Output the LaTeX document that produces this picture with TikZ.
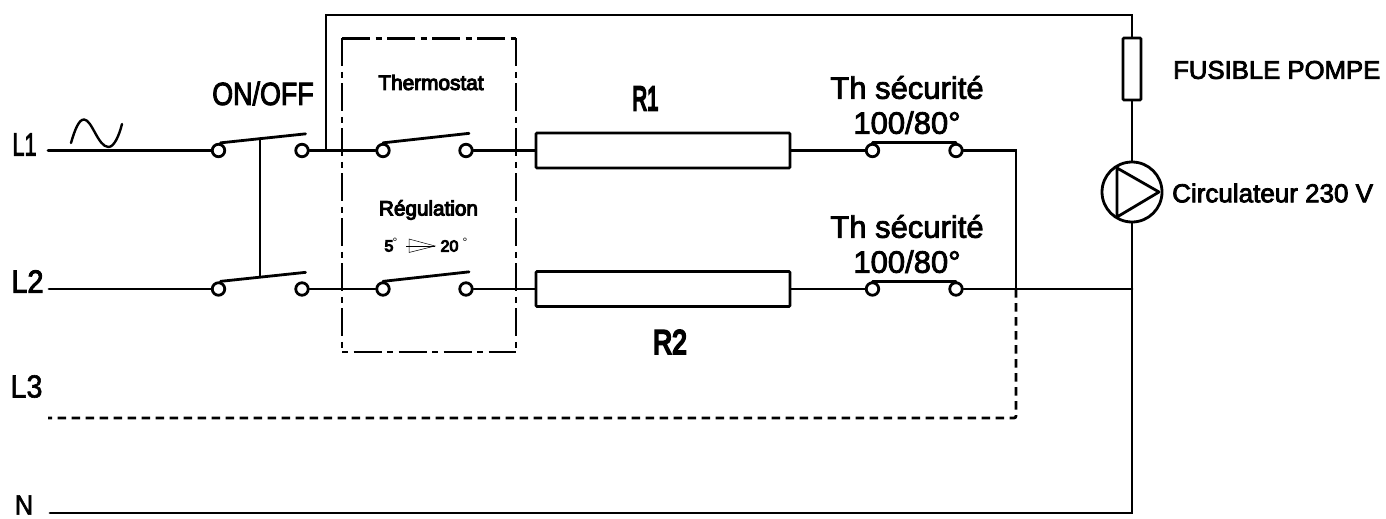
\documentclass[tikz,border=0pt]{standalone}
\usepackage{fontspec}
\setmainfont{Liberation Sans}
\newcommand{\nar}[2]{\scalebox{#1}[1]{#2}}
\newcommand{\hvy}[2]{\special{pdf:code q #1 w 2 Tr}#2\special{pdf:code Q}}
\tikzset{
  wire/.style={line width=2.8pt,line cap=round},
  term/.style={circle,draw,line width=2.8pt,fill=white,inner sep=0pt,minimum size=12.5pt},
  res/.style={rectangle,draw,line width=2.8pt,rounded corners=1pt,inner sep=0pt,minimum width=254pt,minimum height=35pt},
  lab/.style={inner sep=0pt,anchor=center},
  fake/.style={draw=black,line width=.5pt},
  dashdot/.style={line width=2.8pt,dash pattern=on 28pt off 5.5pt on 6pt off 5.5pt},
}
\begin{document}
\begin{tikzpicture}[x=1pt,y=-1pt]
\useasboundingbox (0,0) rectangle (1386,519);
% free ends
\coordinate (l1s) at (48,150.5);
\coordinate (l2s) at (49,289);
\coordinate (l3s) at (48,418);
\coordinate (ns) at (50,513);
\coordinate (j1) at (1016,150.5);
\coordinate (j2) at (1016,289);
\coordinate (j3) at (1016,418);
\coordinate (top1) at (326,150.5);
\coordinate (top2) at (326,15);
\coordinate (top3) at (1132,15);
\coordinate (r2j) at (1132,289);
\coordinate (nj) at (1132,513);
% terminals
\foreach \n/\x in {a/218.5,b/302,c/383,d/466,e/872.5,f/956}{
  \node[term] (\n1) at (\x,150.5) {};
  \node[term] (\n2) at (\x,289) {};
}
% resistors, fuse, pump
\node[res] (R1) at (663,150.5) {};
\node[res] (R2) at (663,289) {};
\node[rectangle,draw,line width=2.8pt,rounded corners=1pt,inner sep=0pt,minimum width=18pt,minimum height=62pt] (fuse) at (1132,69) {};
\node[circle,draw,line width=2.8pt,inner sep=0pt,minimum size=60pt] (pump) at (1132,192) {};
% wires
\draw[wire] (l1s) -- (a1.west);
\draw[wire] (l2s) -- (a2.west);
\draw[wire] (b1.east) -- (c1.west);
\draw[wire] (b2.east) -- (c2.west);
\draw[wire] (d1.east) -- (R1.west);
\draw[wire] (d2.east) -- (R2.west);
\draw[wire] (R1.east) -- (e1.west);
\draw[wire] (R2.east) -- (e2.west);
\draw[wire] (f1.east) -- (j1) -- (j2);
\draw[wire] (f2.east) -- (r2j);
\draw[wire,dash pattern=on 8.5pt off 5.5pt,line cap=butt,rounded corners=2pt] (j2) -- (j3) -- (l3s);
\draw[wire] (ns) -- (nj) -- (pump.south);
\draw[wire] (pump.north) -- (fuse.south);
\draw[wire,line join=miter] (top1) -- (top2) -- (top3) -- (fuse.north);
% switches
\foreach \n in {1,2}{
  \draw[wire] (a\n.north) ++(2,0) -- ++(85,-9) coordinate (swa\n);
  \draw[wire] (c\n.north) ++(0,0) -- ++(86,-9.5) coordinate (swc\n);
  \draw[wire] (e\n.north) -- (f\n.north);
}
\coordinate (bar1) at (260,138.5);
\coordinate (bar2) at (260,277);
\draw[wire] (bar1) -- (bar2);
% dash-dot box
\coordinate (bxa) at (342,38.3);
\coordinate (bxb) at (516,38.3);
\coordinate (bxc) at (516,352);
\coordinate (bxd) at (342,352);
\draw[dashdot] (bxa) -- (bxb);
\draw[dashdot] (bxa) -- (bxd);
\draw[dashdot] (bxb) -- (bxc);
\draw[dashdot,dash phase=33.5pt] (bxd) -- (bxc);
% pump triangle
\draw[line width=2.8pt,line join=round] (1117,168) -- (1159,192) -- (1117,217) -- cycle;
% sine
\draw[line width=2.4pt,line cap=round] (71,143) .. controls (75,129) and (79,119.5) .. (84,119.5)
  .. controls (92,119.5) and (98,147) .. (108.5,147) .. controls (114,147) and (119,136) .. (122,124);
% small arrow
\draw[fake] (409,239) -- (435,246) -- (409,252.5) -- cycle;
\draw[fake] (406,246) -- (435,246);
% labels
\node[lab] (tL1) at (24.5,144.5) {\fontsize{32}{36}\selectfont\hvy{1}{\nar{.68}{L1}}};
\node[lab] (tL2) at (27.5,281.5) {\fontsize{32}{36}\selectfont\hvy{1}{\nar{.9}{L2}}};
\node[lab] (tL3) at (26.5,386.5) {\fontsize{32}{36}\selectfont\hvy{.6}{\nar{.9}{L3}}};
\node[lab] (tN) at (24,505) {\fontsize{28}{32}\selectfont\hvy{.6}{\nar{.9}{N}}};
\node[lab] (tonoff) at (263,93.5) {\fontsize{32}{36}\selectfont\hvy{1}{\nar{.84}{ON/OFF}}};
\node[lab] (tth) at (431,82.5) {\fontsize{20.8}{24}\selectfont\hvy{1}{Thermostat}};
\node[lab] (treg) at (428.5,210) {\fontsize{20.7}{24}\selectfont\hvy{1}{Régulation}};
\node[lab] (t5) at (389,246) {\fontsize{16}{18}\selectfont\hvy{1}{5}};
\node[lab] (t5d) at (395,242) {\fontsize{12}{14}\selectfont °};
\node[lab] (t20) at (449.5,246) {\fontsize{16}{18}\selectfont\hvy{1}{20}};
\node[lab] (t20d) at (465,242) {\fontsize{12}{14}\selectfont °};
\node[lab] (tR1) at (645.5,98.5) {\fontsize{34}{36}\selectfont\hvy{2.2}{\nar{.6}{R1}}};
\node[lab] (tR2) at (670,342) {\fontsize{34}{36}\selectfont\hvy{2.2}{\nar{.78}{R2}}};
\node[lab,align=center,font=\fontsize{31}{35}\selectfont] (ts1) at (907,105) {\hvy{.8}{Th sécurité}\\\hvy{.8}{100/80°}};
\node[lab,align=center,font=\fontsize{31}{35}\selectfont] (ts2) at (907,244) {\hvy{.8}{Th sécurité}\\\hvy{.8}{100/80°}};
\node[lab,anchor=west] (tfus) at (1173,70) {\fontsize{25.7}{28}\selectfont\hvy{.8}{FUSIBLE POMPE}};
\node[lab,anchor=west] (tcirc) at (1172,193) {\fontsize{26}{28}\selectfont\hvy{.8}{Circulateur 230 V}};
\end{tikzpicture}
\end{document}
